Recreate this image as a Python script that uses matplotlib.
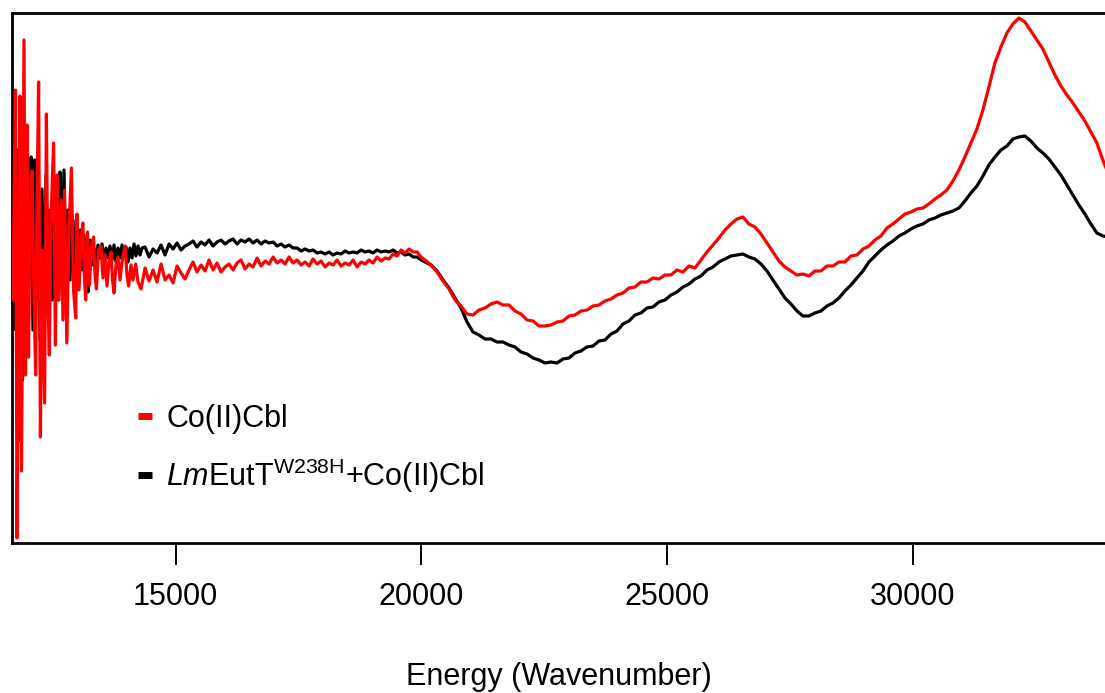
import numpy as np
import matplotlib
matplotlib.use('Agg')
import matplotlib.pyplot as plt
from matplotlib.lines import Line2D

plt.rcParams['font.family'] = ['Liberation Sans', 'DejaVu Sans']
plt.rcParams['mathtext.fontset'] = 'custom'
plt.rcParams['mathtext.rm'] = 'Liberation Sans'
plt.rcParams['mathtext.it'] = 'Liberation Sans:italic'

## data (CD signal, arbitrary units)
# low energy, noisy part
wn_low_red = [11694, 11725, 11745, 11776, 11806, 11837, 11867, 11898, 11918, 11949,
              11979, 12010, 12040, 12081, 12122, 12156, 12183, 12215, 12252, 12284,
              12337, 12374, 12406, 12433, 12467, 12520, 12557, 12589, 12630, 12671,
              12711, 12742, 12789, 12833, 12882, 12925, 12970, 12996, 13037, 13078,
              13116, 13149, 13173, 13210, 13250, 13291, 13334, 13362, 13391, 13433,
              13484, 13525, 13566, 13606, 13647, 13688, 13718, 13749, 13789, 13830,
              13871, 13911, 13973, 14013, 14046, 14095, 14135, 14190, 14237, 14298]
cd_low_red = [-45, 95, 165, -283, -75, 159, -216, 55, 215, -120,
              130, -102, 25, 84, -45, -120, 55, 173, -182, 5,
              -148, 141, -45, -100, 35, 112, -90, 80, -45, 55,
              -65, 65, -88, 25, 87, -35, -63, 41, -35, 15,
              32, -25, -45, 23, -30, 10, 18, -20, -34, 5,
              9, -23, 0, -31, -7, 3, -25, -38, -10, -2,
              -25, -7, 9, -20, -31, -10, -25, -9, -27, -34]

wn_low_blk = [11694, 11725, 11755, 11786, 11816, 11857, 11888, 11918, 11959, 11989,
              12020, 12061, 12101, 12132, 12172, 12203, 12244, 12284, 12325, 12366,
              12406, 12447, 12488, 12508, 12549, 12589, 12620, 12650, 12691, 12732,
              12772, 12813, 12854, 12894, 12935, 12976, 13017, 13057, 13098, 13139,
              13179, 13220, 13261, 13301, 13342, 13383, 13423, 13464, 13505, 13545,
              13586, 13627, 13667, 13708, 13749, 13789, 13830, 13871, 13911, 13952,
              13993, 14034, 14074, 14115, 14156, 14196, 14237, 14278, 14318]
cd_low_blk = [-25, 55, -75, 105, -185, 45, -125, 75, -45, -95,
              35, 98, -75, 95, -45, 55, -85, 66, -55, 80,
              -35, 45, -45, 82, -25, 65, -45, 83, -5, 85,
              -35, 45, -25, 40, -20, 35, -20, 25, -15, 20,
              -20, -37, 15, -10, 7, -7, 10, -3, 11, -7,
              7, -3, 9, -5, 10, -7, 7, -3, 10, -1,
              8, -7, 7, -3, 11, -1, 9, 0, 7]

# mid range (sampled 14380 -> 19995)
wn_mid = np.linspace(14380, 19995, 70)
cd_mid_red = [-13, -26, -15, -27, -9, -25, -20, -28, -11, -18,
              -24, -15, -7, -17, -10, -16, -5, -15, -8, -17,
              -12, -9, -15, -8, -5, -14, -9, -12, -3, -11,
              -6, -9, -2, -8, -5, -9, -2, -8, -5, -10,
              -7, -11, -4, -9, -6, -12, -8, -10, -5, -11,
              -8, -10, -5, -12, -7, -9, -5, -8, -2, -6,
              -3, -4, 1, -1, 5, 2, 6, 3, 3, -2]
cd_mid_blk = [8, -2, 6, 2, 10, 0, 11, 6, 12, 5,
              9, 11, 14, 8, 13, 10, 15, 9, 13, 15,
              11, 14, 16, 11, 15, 13, 16, 12, 15, 11,
              14, 12, 13, 9, 11, 8, 10, 7, 7, 4,
              6, 4, 5, 2, 3, 1, 3, 0, 2, 1,
              4, 2, 3, 2, 5, 3, 4, 2, 5, 3,
              4, 3, 5, 2, 3, 0, 1, -2, -2, -5]

# high energy (sampled 20075 -> 33985)
wn_high = np.linspace(20075, 33985, 115)
cd_high_red = [-5, -10, -17, -26, -34, -45, -51, -59, -60, -55,
               -53, -49, -47, -50, -50, -56, -59, -65, -66, -71,
               -71, -70, -67, -66, -61, -60, -56, -55, -51, -50,
               -46, -44, -40, -38, -33, -32, -27, -27, -23, -24,
               -20, -20, -15, -17, -11, -13, -5, 3, 10, 17,
               25, 31, 36, 38, 31, 28, 21, 12, 3, -6,
               -12, -16, -20, -19, -21, -16, -16, -11, -11, -7,
               -7, -1, 0, 6, 9, 15, 19, 27, 31, 36,
               41, 43, 46, 47, 51, 56, 60, 65, 74, 85,
               98, 112, 126, 145, 168, 192, 208, 222, 231, 237,
               233, 224, 215, 206, 193, 180, 169, 160, 152, 143,
               134, 123, 112, 95, 80]
cd_high_blk = [-7, -10, -16, -25, -33, -43, -53, -67, -77, -80,
               -84, -84, -87, -87, -90, -92, -97, -99, -103, -105,
               -108, -107, -108, -104, -103, -98, -96, -92, -91, -86,
               -85, -79, -76, -69, -66, -60, -58, -53, -52, -47,
               -45, -40, -37, -32, -29, -24, -21, -15, -12, -7,
               -4, -1, 0, 1, -2, -4, -9, -16, -25, -34,
               -43, -49, -56, -61, -61, -58, -56, -51, -48, -43,
               -36, -30, -23, -16, -7, -1, 5, 10, 14, 19,
               22, 26, 29, 31, 35, 37, 40, 42, 44, 47,
               54, 62, 69, 79, 90, 98, 105, 109, 116, 118,
               119, 114, 107, 102, 96, 88, 80, 70, 60, 50,
               41, 31, 22, 19, 18]

wn_red = np.concatenate([wn_low_red, wn_mid, wn_high])
cd_red = np.concatenate([cd_low_red, cd_mid_red, cd_high_red])
wn_blk = np.concatenate([wn_low_blk, wn_mid, wn_high])
cd_blk = np.concatenate([cd_low_blk, cd_mid_blk, cd_high_blk])

labels = ['Co(II)Cbl', r'$\it{Lm}$EutT$^{\mathrm{W238H}}$+Co(II)Cbl']

## plot
fig = plt.figure(figsize=(11.05, 6.93), dpi=100)
ax = fig.add_axes([12/1105, 1 - 543/693, 1 - 12/1105, (543 - 13)/693])

ax.plot(wn_blk, cd_blk, color='black', lw=2.3, zorder=2)
ax.plot(wn_red, cd_red, color='#ff0000', lw=2.3, zorder=3)

ax.set_xlim(11674, 33906)
ax.set_ylim(-288, 242)

ax.spines['right'].set_visible(False)
for s in ['left', 'top', 'bottom']:
    ax.spines[s].set_linewidth(2.0)
ax.set_yticks([])
ax.set_xticks([15000, 20000, 25000, 30000])
ax.tick_params(axis='x', direction='out', length=16, width=1.4, pad=12, labelsize=22)
ax.set_xlabel('Energy (Wavenumber)', fontsize=22, labelpad=36)

handles = [Line2D([], [], color='#ff0000', lw=5, solid_capstyle='butt'),
           Line2D([], [], color='black', lw=5, solid_capstyle='butt')]
ax.legend(handles, labels, loc='upper left', bbox_to_anchor=(0.104, 0.285),
          frameon=False, fontsize=22, handlelength=0.46, handletextpad=0.46,
          labelspacing=0.74, borderaxespad=0)

fig.savefig('out.png', dpi=100)
